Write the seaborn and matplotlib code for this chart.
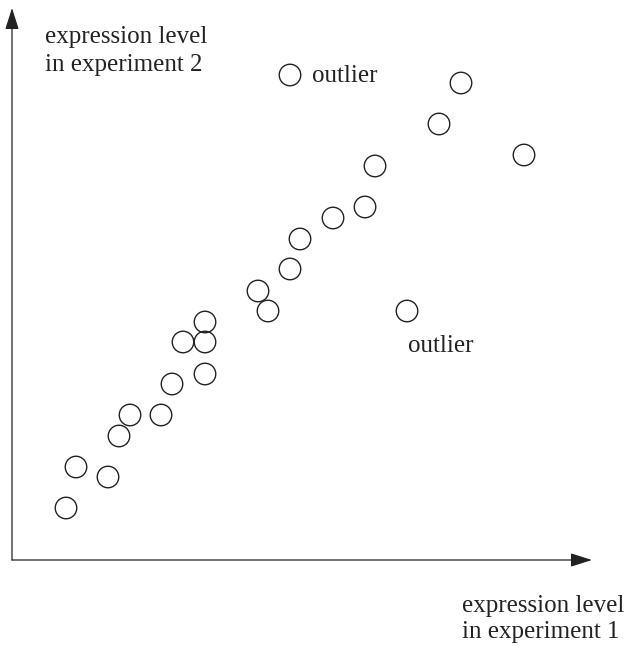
import matplotlib
matplotlib.use("Agg")
import matplotlib.pyplot as plt
import seaborn as sns
import pandas as pd

# Expression levels of genes measured in two experiments
expr_exp1 = [54, 64, 96, 107, 118, 149, 160, 171, 193, 193, 193, 246, 256, 278, 288, 321, 353, 363, 278, 395, 427, 449, 512]
expr_exp2 = [52, 93, 83, 124, 145, 145, 176, 218, 238, 218, 186, 269, 249, 291, 321, 342, 353, 394, 485, 249, 436, 477, 405]
outlier_labels = ["outlier", "outlier"]
xlabel_lines = ["expression level", "in experiment 1"]
ylabel_lines = ["expression level", "in experiment 2"]

df = pd.DataFrame({"exp1": expr_exp1, "exp2": expr_exp2})

sns.set_theme(style="white")
plt.rcParams["font.family"] = ["Liberation Serif", "DejaVu Serif"]

fig = plt.figure(figsize=(6.28, 6.52), dpi=100)
W, H = 628, 652
x0, y0 = 12, 560
ax = fig.add_axes([x0 / W, (H - y0) / H, (W - x0) / W, (y0 - 2) / H])
ax.set_xlim(0, W - x0)
ax.set_ylim(0, y0 - 2)

sns.scatterplot(data=df, x="exp1", y="exp2", ax=ax, s=240, marker="o",
                facecolor="none", edgecolor="#222222", linewidth=1.0, legend=False)

# Axis arrows
arrow = dict(arrowstyle="-|>,head_length=1.1,head_width=0.35", color="#222222",
             lw=0.9, shrinkA=0, shrinkB=0)
ax.annotate("", xy=(580, 0), xytext=(0, 0), arrowprops=arrow, annotation_clip=False)
ax.annotate("", xy=(0, 552), xytext=(0, 0), arrowprops=arrow, annotation_clip=False)

for s in ax.spines.values():
    s.set_visible(False)
ax.set_xticks([])
ax.set_yticks([])
ax.set_xlabel("")
ax.set_ylabel("")

txt = dict(color="#222222", fontsize=18, va="baseline", ha="left", clip_on=False)
for i, line in enumerate(ylabel_lines):
    ax.text(33, 517 - 28 * i, line, **txt)
for i, line in enumerate(xlabel_lines):
    ax.text(450, -52 - 26 * i, line, **txt)
ax.text(300, 478, outlier_labels[0], **txt)
ax.text(396, 208, outlier_labels[1], **txt)

fig.savefig("out.png", dpi=100, facecolor="white")
